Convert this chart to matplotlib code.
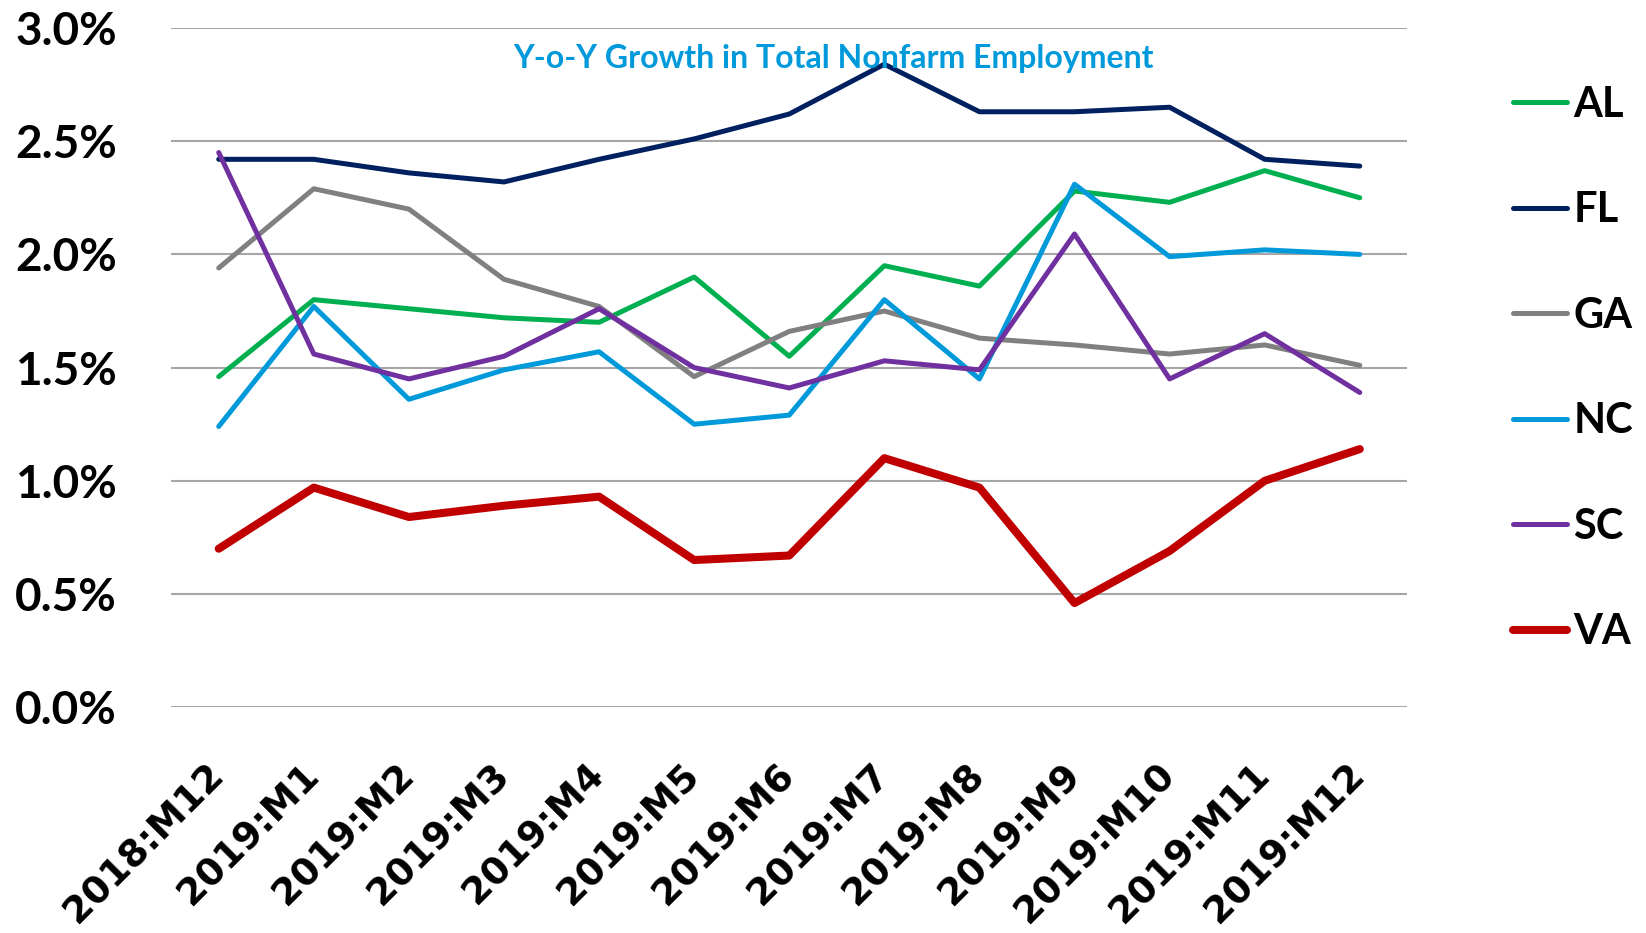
import matplotlib.pyplot as plt

months = ["2018:M12", "2019:M1", "2019:M2", "2019:M3", "2019:M4", "2019:M5", "2019:M6",
          "2019:M7", "2019:M8", "2019:M9", "2019:M10", "2019:M11", "2019:M12"]

al = [1.46, 1.80, 1.76, 1.72, 1.70, 1.90, 1.55, 1.95, 1.86, 2.28, 2.23, 2.37, 2.25]
fl = [2.42, 2.42, 2.36, 2.32, 2.42, 2.51, 2.62, 2.84, 2.63, 2.63, 2.65, 2.42, 2.39]
ga = [1.94, 2.29, 2.20, 1.89, 1.77, 1.46, 1.66, 1.75, 1.63, 1.60, 1.56, 1.60, 1.51]
nc = [1.24, 1.77, 1.36, 1.49, 1.57, 1.25, 1.29, 1.80, 1.45, 2.31, 1.99, 2.02, 2.00]
sc = [2.45, 1.56, 1.45, 1.55, 1.76, 1.50, 1.41, 1.53, 1.49, 2.09, 1.45, 1.65, 1.39]
va = [0.70, 0.97, 0.84, 0.89, 0.93, 0.65, 0.67, 1.10, 0.97, 0.46, 0.69, 1.00, 1.14]

plt.rcParams['font.family'] = ['Lato', 'DejaVu Sans']
plt.rcParams['font.weight'] = 'bold'

fig = plt.figure(figsize=(16.46, 9.33), dpi=100)
ax = fig.add_axes([0.104, 0.242, 0.751, 0.728])

x = range(len(months))
kw = dict(solid_capstyle='round')
ax.plot(x, al, color="#00B050", lw=3.6, label="AL", **kw)
ax.plot(x, fl, color="#002060", lw=3.6, label="FL", **kw)
ax.plot(x, ga, color="#808080", lw=3.6, label="GA", **kw)
ax.plot(x, nc, color="#0099DA", lw=3.6, label="NC", **kw)
ax.plot(x, sc, color="#7030A0", lw=3.6, label="SC", **kw)
ax.plot(x, va, color="#C00000", lw=5.8, label="VA", **kw)

ax.set_xlim(-0.5, 12.5)
ax.set_ylim(0, 3.0)
yt = [0, 0.5, 1.0, 1.5, 2.0, 2.5, 3.0]
ax.set_yticks(yt)
ax.set_yticklabels(["%.1f%%" % v for v in yt], fontsize=33, fontweight='bold')
ax.set_xticks(list(x))
ax.set_xticklabels(months, rotation=45, ha='right', va='center', rotation_mode='anchor',
                   fontsize=27, fontweight='bold', family='DejaVu Sans')
ax.tick_params(length=0)
ax.tick_params(axis='x', pad=45)
ax.tick_params(axis='y', pad=39)
ax.grid(axis='y', color="#A6A6A6", lw=1.5)
ax.set_axisbelow(True)
for s in ax.spines.values():
    s.set_visible(False)

ax.text(0.536, 0.955, "Y-o-Y Growth in Total Nonfarm Employment", transform=ax.transAxes,
        ha='center', va='center', color="#0099DA", fontsize=23, fontweight='bold')

fig.legend(loc='upper left', bbox_to_anchor=(0.909, 0.926), frameon=False,
           fontsize=30, labelspacing=1.62, handlelength=1.3, handletextpad=0.15,
           borderaxespad=0)

fig.savefig("out.png", dpi=100)
